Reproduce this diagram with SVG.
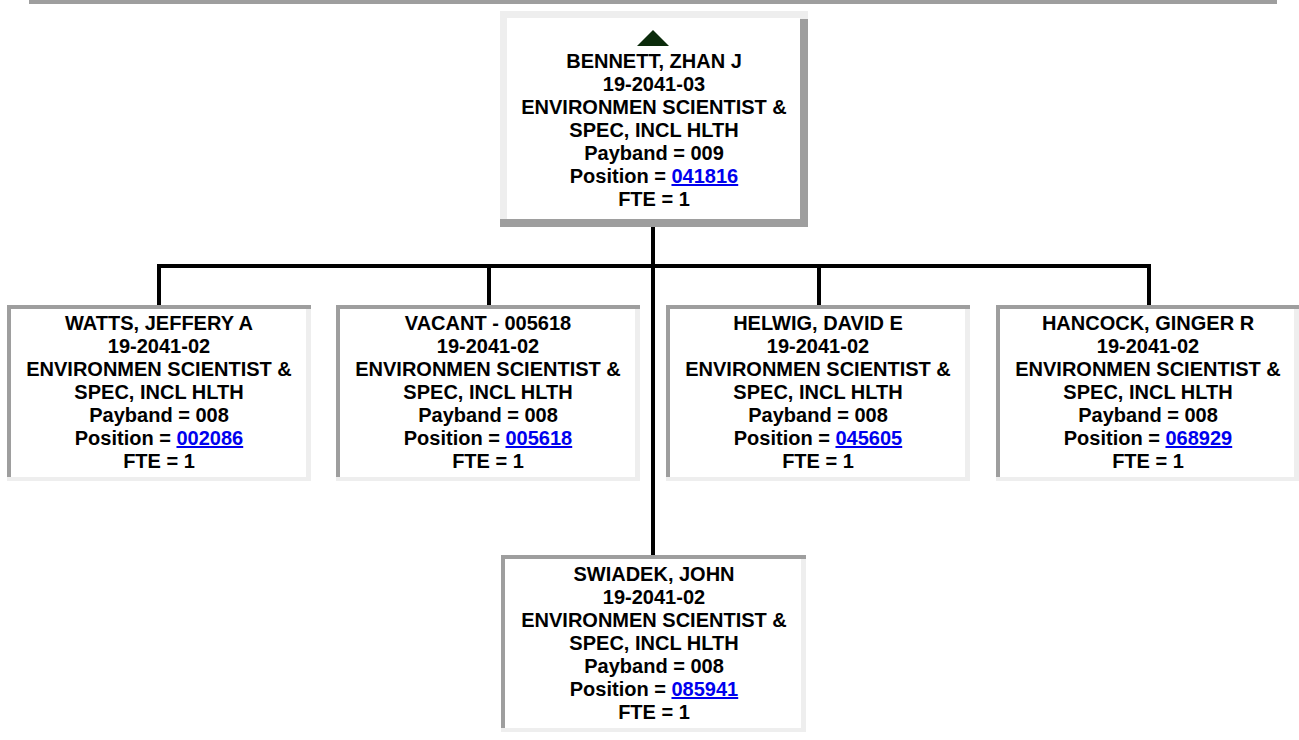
<svg xmlns="http://www.w3.org/2000/svg" width="1299" height="740" viewBox="0 0 1299 740">
<style>
.t{font-family:"Liberation Sans",Arial,sans-serif;font-size:20px;font-weight:bold;fill:#000;text-anchor:middle}
.lk{fill:#0000ee;text-decoration:underline}
.lt{fill:#eeeeee}
.dk{fill:#9e9e9e}
.wh{fill:#ffffff}
.cn{fill:none;stroke:#000;stroke-width:4}
</style>
<rect width="1299" height="740" fill="#fff"/>
<rect x="29" y="0" width="1248" height="4" class="dk"/>
<g id="connectors">
<path class="cn" d="M653 227 V555"/>
<path class="cn" d="M159 306 V266 H1149 V306"/>
<path class="cn" d="M489 266 V306"/>
<path class="cn" d="M819 266 V306"/>
</g>
<g id="node-bennett">
<rect x="500" y="11" width="308" height="216" class="lt"/>
<rect x="800" y="19" width="8" height="208" class="dk"/>
<rect x="500" y="219" width="308" height="8" class="dk"/>
<rect x="507" y="18" width="293" height="201" class="wh"/>
<polygon points="653,30 637,46 669,46" fill="#0b2b0b"/>
<text class="t" x="654" y="68">BENNETT, ZHAN J</text>
<text class="t" x="654" y="91">19-2041-03</text>
<text class="t" x="654" y="114">ENVIRONMEN SCIENTIST &amp;</text>
<text class="t" x="654" y="137">SPEC, INCL HLTH</text>
<text class="t" x="654" y="160">Payband = 009</text>
<text class="t" x="654" y="183">Position = <tspan class="lk">041816</tspan></text>
<text class="t" x="654" y="206">FTE = 1</text>
</g>
<g id="node-watts">
<rect x="7" y="305" width="304" height="176" class="lt"/>
<rect x="7" y="305" width="304" height="4" class="dk"/>
<rect x="7" y="305" width="4" height="172" class="dk"/>
<rect x="11" y="309" width="295" height="168" class="wh"/>
<text class="t" x="159" y="330">WATTS, JEFFERY A</text>
<text class="t" x="159" y="353">19-2041-02</text>
<text class="t" x="159" y="376">ENVIRONMEN SCIENTIST &amp;</text>
<text class="t" x="159" y="399">SPEC, INCL HLTH</text>
<text class="t" x="159" y="422">Payband = 008</text>
<text class="t" x="159" y="445">Position = <tspan class="lk">002086</tspan></text>
<text class="t" x="159" y="468">FTE = 1</text>
</g>
<g id="node-vacant">
<rect x="336" y="305" width="304" height="176" class="lt"/>
<rect x="336" y="305" width="304" height="4" class="dk"/>
<rect x="336" y="305" width="4" height="172" class="dk"/>
<rect x="340" y="309" width="295" height="168" class="wh"/>
<text class="t" x="488" y="330">VACANT - 005618</text>
<text class="t" x="488" y="353">19-2041-02</text>
<text class="t" x="488" y="376">ENVIRONMEN SCIENTIST &amp;</text>
<text class="t" x="488" y="399">SPEC, INCL HLTH</text>
<text class="t" x="488" y="422">Payband = 008</text>
<text class="t" x="488" y="445">Position = <tspan class="lk">005618</tspan></text>
<text class="t" x="488" y="468">FTE = 1</text>
</g>
<g id="node-helwig">
<rect x="666" y="305" width="304" height="176" class="lt"/>
<rect x="666" y="305" width="304" height="4" class="dk"/>
<rect x="666" y="305" width="4" height="172" class="dk"/>
<rect x="670" y="309" width="295" height="168" class="wh"/>
<text class="t" x="818" y="330">HELWIG, DAVID E</text>
<text class="t" x="818" y="353">19-2041-02</text>
<text class="t" x="818" y="376">ENVIRONMEN SCIENTIST &amp;</text>
<text class="t" x="818" y="399">SPEC, INCL HLTH</text>
<text class="t" x="818" y="422">Payband = 008</text>
<text class="t" x="818" y="445">Position = <tspan class="lk">045605</tspan></text>
<text class="t" x="818" y="468">FTE = 1</text>
</g>
<g id="node-hancock">
<rect x="996" y="305" width="303" height="176" class="lt"/>
<rect x="996" y="305" width="303" height="4" class="dk"/>
<rect x="996" y="305" width="4" height="172" class="dk"/>
<rect x="1000" y="309" width="294" height="168" class="wh"/>
<text class="t" x="1148" y="330">HANCOCK, GINGER R</text>
<text class="t" x="1148" y="353">19-2041-02</text>
<text class="t" x="1148" y="376">ENVIRONMEN SCIENTIST &amp;</text>
<text class="t" x="1148" y="399">SPEC, INCL HLTH</text>
<text class="t" x="1148" y="422">Payband = 008</text>
<text class="t" x="1148" y="445">Position = <tspan class="lk">068929</tspan></text>
<text class="t" x="1148" y="468">FTE = 1</text>
</g>
<g id="node-swiadek">
<rect x="501" y="555" width="305" height="177" class="lt"/>
<rect x="501" y="555" width="305" height="4" class="dk"/>
<rect x="501" y="555" width="4" height="173" class="dk"/>
<rect x="505" y="559" width="296" height="169" class="wh"/>
<text class="t" x="654" y="581">SWIADEK, JOHN</text>
<text class="t" x="654" y="604">19-2041-02</text>
<text class="t" x="654" y="627">ENVIRONMEN SCIENTIST &amp;</text>
<text class="t" x="654" y="650">SPEC, INCL HLTH</text>
<text class="t" x="654" y="673">Payband = 008</text>
<text class="t" x="654" y="696">Position = <tspan class="lk">085941</tspan></text>
<text class="t" x="654" y="719">FTE = 1</text>
</g>
</svg>
